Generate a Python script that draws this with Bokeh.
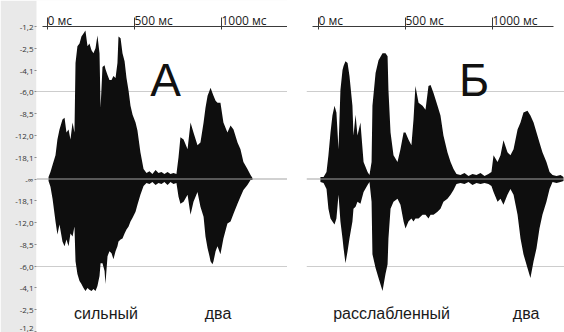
from bokeh.plotting import figure
from bokeh.models import (Range1d, LinearAxis, FixedTicker, Span, Grid)
from bokeh.layouts import row
from bokeh.embed import file_html
from bokeh.resources import INLINE
from bokeh.core.properties import value

# ---------------- data ----------------
# time in ms, upper / lower envelope of the waveform (linear amplitude, full scale = 1)
a_ms = [6, 17, 29, 46, 57, 69, 86, 98, 109, 121, 132, 144, 155, 161, 172, 184, 195, 207,
        218, 230, 241, 253, 264, 276, 287, 299, 305, 316, 328, 333, 345, 356, 368, 379,
        391, 402, 408, 420, 431, 443, 454, 466, 477, 489, 506, 517, 534, 552, 569, 586,
        603, 621, 638, 655, 672, 690, 707, 724, 741, 753, 764, 782, 805, 822, 839, 862,
        879, 897, 908, 920, 931, 937, 948, 954, 966, 977, 994, 1011, 1034, 1052, 1069,
        1092, 1109, 1126, 1149, 1167, 1178]
a_top = [0.011, 0.04, 0.08, 0.136, 0.227, 0.284, 0.341, 0.352, 0.267, 0.284, 0.227, 0.324,
         0.267, 0.665, 0.761, 0.778, 0.818, 0.835, 0.852, 0.761, 0.778, 0.739, 0.722, 0.75,
         0.824, 0.722, 0.409, 0.642, 0.653, 0.631, 0.597, 0.568, 0.568, 0.591, 0.58, 0.665,
         0.818, 0.807, 0.722, 0.676, 0.58, 0.506, 0.42, 0.369, 0.324, 0.278, 0.153, 0.057,
         0.034, 0.045, 0.028, 0.051, 0.034, 0.04, 0.028, 0.04, 0.028, 0.034, 0.028, 0.125,
         0.239, 0.227, 0.17, 0.324, 0.267, 0.193, 0.21, 0.324, 0.409, 0.477, 0.506, 0.523,
         0.494, 0.477, 0.449, 0.438, 0.438, 0.324, 0.267, 0.307, 0.284, 0.21, 0.17, 0.097,
         0.057, 0.023, 0.006]
a_bot = [-0.011, -0.045, -0.114, -0.244, -0.318, -0.261, -0.358, -0.386, -0.347, -0.386,
         -0.313, -0.33, -0.273, -0.472, -0.545, -0.585, -0.602, -0.625, -0.642, -0.625,
         -0.636, -0.642, -0.631, -0.642, -0.614, -0.557, -0.483, -0.483, -0.528, -0.602,
         -0.443, -0.415, -0.426, -0.46, -0.415, -0.386, -0.358, -0.347, -0.341, -0.313,
         -0.29, -0.273, -0.244, -0.222, -0.188, -0.148, -0.091, -0.04, -0.023, -0.028,
         -0.017, -0.034, -0.023, -0.028, -0.017, -0.034, -0.017, -0.028, -0.023, -0.102,
         -0.142, -0.131, -0.091, -0.205, -0.131, -0.074, -0.159, -0.216, -0.33, -0.398,
         -0.443, -0.472, -0.489, -0.472, -0.415, -0.386, -0.432, -0.341, -0.256, -0.244,
         -0.199, -0.142, -0.102, -0.063, -0.034, -0.006, -0.006]

b_ms = [11, 29, 46, 57, 69, 80, 92, 103, 115, 126, 138, 144, 155, 167, 178, 195, 201, 213,
        224, 241, 259, 282, 293, 305, 310, 328, 345, 368, 385, 397, 402, 414, 431, 454, 471,
        489, 500, 517, 534, 546, 557, 575, 598, 615, 632, 644, 661, 684, 701, 718, 741, 759,
        776, 793, 816, 839, 862, 885, 908, 931, 954, 977, 994, 1006, 1029, 1046, 1063, 1086,
        1103, 1121, 1144, 1161, 1178, 1201, 1218, 1236, 1253, 1270, 1287, 1310, 1328, 1345,
        1368, 1391, 1408]
b_top = [0.011, 0.011, 0.04, 0.136, 0.267, 0.364, 0.42, 0.381, 0.17, 0.511, 0.625, 0.648,
         0.676, 0.665, 0.591, 0.42, 0.25, 0.369, 0.25, 0.324, 0.097, 0.04, 0.023, 0.097, 0.42,
         0.608, 0.682, 0.722, 0.722, 0.705, 0.511, 0.267, 0.136, 0.097, 0.17, 0.267, 0.267,
         0.227, 0.193, 0.341, 0.534, 0.438, 0.42, 0.398, 0.534, 0.54, 0.494, 0.42, 0.364,
         0.25, 0.153, 0.097, 0.057, 0.028, 0.023, 0.034, 0.017, 0.028, 0.023, 0.034, 0.017,
         0.028, 0.04, 0.136, 0.097, 0.136, 0.222, 0.153, 0.136, 0.17, 0.284, 0.324, 0.381,
         0.392, 0.364, 0.324, 0.267, 0.21, 0.153, 0.097, 0.04, 0.023, 0.017, 0.023, 0.011]
b_bot = [-0.017, -0.023, -0.057, -0.17, -0.227, -0.244, -0.261, -0.227, -0.091, -0.244,
         -0.341, -0.398, -0.483, -0.415, -0.341, -0.244, -0.17, -0.159, -0.131, -0.142,
         -0.074, -0.034, -0.017, -0.131, -0.432, -0.511, -0.568, -0.642, -0.545, -0.489,
         -0.341, -0.17, -0.131, -0.114, -0.148, -0.244, -0.284, -0.244, -0.227, -0.244,
         -0.227, -0.227, -0.205, -0.205, -0.227, -0.205, -0.205, -0.188, -0.17, -0.131,
         -0.114, -0.091, -0.063, -0.028, -0.023, -0.028, -0.017, -0.034, -0.023, -0.028,
         -0.023, -0.028, -0.04, -0.074, -0.131, -0.114, -0.148, -0.091, -0.057, -0.091,
         -0.205, -0.341, -0.432, -0.511, -0.568, -0.472, -0.398, -0.284, -0.205, -0.131,
         -0.057, -0.017, -0.023, -0.017, -0.011]

# level axis: tick positions (linear amplitude) and their dB labels
level_ticks = [0.875, 0.75, 0.625, 0.5, 0.375, 0.25, 0.125, 0.0,
               -0.125, -0.25, -0.375, -0.5, -0.625, -0.75, -0.875]
level_labels = ["-1,2", "-2,5", "-4,1", "-6,0", "-8,5", "-12,0", "-18,1", "-\u221e",
                "-18,1", "-12,0", "-8,5", "-6,0", "-4,1", "-2,5", "-1,2"]
level_grid = [-0.5, 0.5]

time_ticks = [0, 500, 1000]
time_labels = ["0 мс", "500 мс", "1000 мс"]

words_a = ["сильный", "два"]
words_a_ms = [336, 980]
words_b = ["расслабленный", "два"]
words_b_ms = [420, 1193]
letters = ["А", "Б"]
letters_ms = [678, 894]

Y0, Y1 = -0.8807, 0.875
WORD_Y = -0.773
LETTER_Y = 0.57
H = 332
STRIP = "#e9e9e9"


def make_panel(width, mbl, mbr, x0, x1, bounds, ms, top, bot, words, words_ms,
               letter, letter_ms, with_levels):
    p = figure(width=width, height=H, x_range=Range1d(x0, x1), y_range=Range1d(Y0, Y1),
               output_backend="svg", toolbar_location=None,
               x_axis_location=None, y_axis_location=None,
               min_border_left=mbl, min_border_right=mbr, min_border_top=23,
               min_border_bottom=0)
    p.outline_line_color = None
    p.grid.visible = False
    p.background_fill_color = "white"
    p.border_fill_color = STRIP if with_levels else "white"

    g = Grid(dimension=1, ticker=FixedTicker(ticks=level_grid),
             grid_line_color="#cdcdcd", grid_line_width=1)
    p.add_layout(g)
    p.add_layout(Span(location=0, dimension="width", line_color="#a3a3a3", line_width=1))

    p.varea(x=ms, y1=bot, y2=top, fill_color="#0e0e0e")

    ax = LinearAxis(ticker=FixedTicker(ticks=time_ticks), bounds=bounds,
                    major_label_overrides=dict(zip(time_ticks, time_labels)),
                    major_label_orientation=0.0001,
                    axis_line_color="#3a3a3a", major_tick_line_color="#3a3a3a",
                    major_tick_out=9, major_tick_in=3, minor_tick_line_color=None,
                    major_label_standoff=-3, major_label_text_font="Open Sans",
                    major_label_text_font_size="12px", major_label_text_color="#222222",
                    background_fill_color="white")
    p.add_layout(ax, "above")

    p.text(x=words_ms, y=[WORD_Y] * len(words), text=words, text_align="center",
           text_baseline="middle", text_font=value("Liberation Sans"),
           text_font_size="16px", text_color="#1a1a1a")
    p.text(x=[letter_ms], y=[LETTER_Y], text=[letter], text_align="center",
           text_baseline="alphabetic", text_font=value("Liberation Sans"),
           text_font_size="46px", text_color="#111111")

    if with_levels:
        yax = LinearAxis(ticker=FixedTicker(ticks=level_ticks),
                         major_label_overrides=dict(zip(level_ticks, level_labels)),
                         axis_line_color=None, major_tick_out=2, major_tick_in=0,
                         major_tick_line_color="#8a8a8a", minor_tick_line_color=None,
                         major_label_standoff=1, major_label_text_font="Open Sans",
                         major_label_text_font_size="8px", major_label_text_color="#333333")
        p.add_layout(yax, "left")
    return p


pA = make_panel(287, 36, 0, -63.2, 1379.3, (-29, 1379.3), a_ms, a_top, a_bot,
                words_a, words_a_ms, letters[0], letters_ms[0], True)
pB = make_panel(277, 19, 0, -69.0, 1413.8, (-34.5, 1350.5), b_ms, b_top, b_bot,
                words_b, words_b_ms, letters[1], letters_ms[1], False)

layout = row(pA, pB)
open("out.html", "w").write(file_html(layout, INLINE))
